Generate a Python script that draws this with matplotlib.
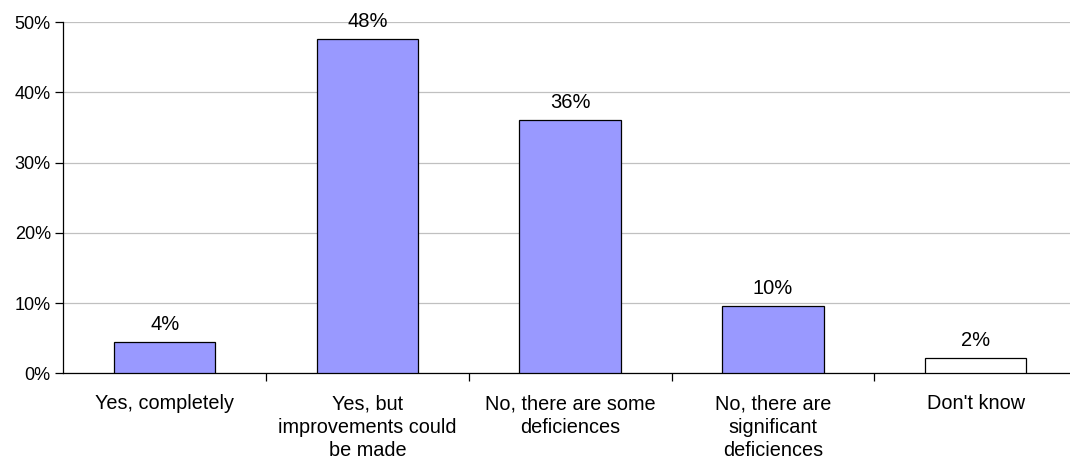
import matplotlib.pyplot as plt
import numpy as np

plt.rcParams['font.family'] = ['Liberation Sans', 'DejaVu Sans']

categories = ["Yes, completely", "Yes, but\nimprovements could\nbe made",
              "No, there are some\ndeficiences", "No, there are\nsignificant\ndeficiences",
              "Don't know"]
values = [4.46, 47.6, 36.1, 9.6, 2.2]
labels = ["4%", "48%", "36%", "10%", "2%"]
colors = ["#9999ff", "#9999ff", "#9999ff", "#9999ff", "#ffffff"]

fig = plt.figure(figsize=(10.7, 4.65), dpi=100)
ax = fig.add_axes([63.3/1070, 1 - 373.3/465, (1077 - 63.3)/1070, (373.3 - 22.3)/465])

x = np.arange(len(categories))
ax.bar(x, values, width=0.5, color=colors, edgecolor="black", linewidth=0.9, zorder=3)
for xi, v, lab in zip(x, values, labels):
    ax.text(xi, v + 1.75, lab, ha="center", va="baseline", fontsize=14.5, zorder=4)

ax.set_xlim(-0.5, len(categories) - 0.5)
ax.set_ylim(0, 50)
ax.set_yticks(np.arange(0, 51, 10))
ax.set_yticklabels([f"{t}%" for t in range(0, 51, 10)], fontsize=13)
ax.yaxis.grid(True, color="#c0c0c0", linewidth=0.9, zorder=0)

ax.set_xticks(x)
ax.set_xticklabels(categories, fontsize=14.3, linespacing=1.3)
ax.tick_params(axis="x", length=0, pad=15)
ax.set_xticks(np.arange(0.5, len(categories) - 1, 1), minor=True)
ax.tick_params(axis="x", which="minor", length=6, width=0.9, direction="out")
ax.tick_params(axis="y", length=6, width=0.9, direction="out", pad=3)

for s in ["top", "right"]:
    ax.spines[s].set_visible(False)
for s in ["left", "bottom"]:
    ax.spines[s].set_linewidth(0.9)

fig.savefig("out.png", dpi=100)
